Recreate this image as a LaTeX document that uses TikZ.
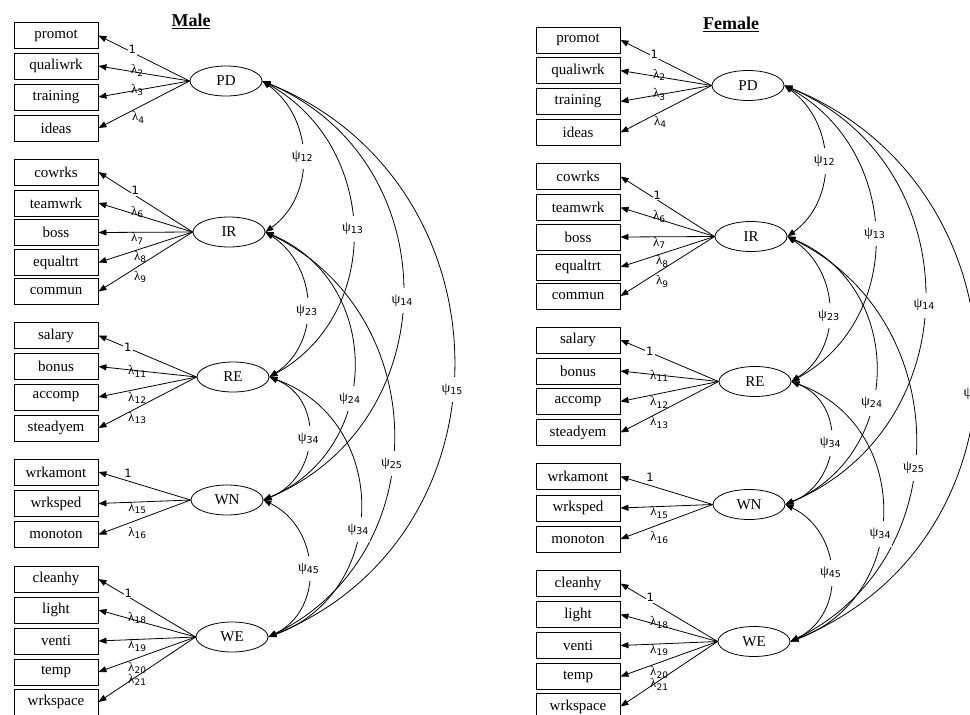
\documentclass[tikz,border=0pt]{standalone}
\usepackage{fontspec}
\setmainfont{Liberation Serif}
\newfontfamily\labsans{DejaVu Sans}
\usetikzlibrary{arrows.meta,shapes.geometric}
\newcommand\lm[1]{λ\raisebox{-2.5pt}{\labsans\fontsize{9}{9}\selectfont #1}}
\newcommand\ps[1]{ψ\raisebox{-2pt}{\labsans\fontsize{9.5}{9.5}\selectfont #1}}
\newcommand\drawpanel{%
\node[lat] (PD) at (226,81) {PD};
\node[lat] (IR) at (229,232) {IR};
\node[lat] (RE) at (233,377) {RE};
\node[lat] (WN) at (227,500) {WN};
\node[lat] (WE) at (232,637) {WE};
\node[obs] (promot) at (56,35.5) {promot};
\node[obs] (qualiwrk) at (56,66) {qualiwrk};
\node[obs] (training) at (56,97) {training};
\node[obs] (ideas) at (56,128) {ideas};
\node[obs] (cowrks) at (56,172) {cowrks};
\node[obs] (teamwrk) at (56,203) {teamwrk};
\node[obs] (boss) at (56,232.5) {boss};
\node[obs] (equaltrt) at (56,262.5) {equaltrt};
\node[obs] (commun) at (56,291.5) {commun};
\node[obs] (salary) at (56,335.5) {salary};
\node[obs] (bonus) at (56,366.5) {bonus};
\node[obs] (accomp) at (56,397) {accomp};
\node[obs] (steadyem) at (56,428) {steadyem};
\node[obs] (wrkamont) at (56,472) {wrkamont};
\node[obs] (wrksped) at (56,503.5) {wrksped};
\node[obs] (monoton) at (56,534.5) {monoton};
\node[obs] (cleanhy) at (56,579) {cleanhy};
\node[obs] (light) at (56,610) {light};
\node[obs] (venti) at (56,641) {venti};
\node[obs] (temp) at (56,672) {temp};
\node[obs] (wrkspace) at (56,702) {wrkspace};
% loadings
\draw[load] (PD.west) -- node[one,pos=.63,yshift=3pt]{1} (promot.east);
\draw[load] (PD.west) -- node[lam,pos=.576,yshift=2pt]{\lm{2}} (qualiwrk.east);
\draw[load] (PD.west) -- node[lam,pos=.576]{\lm{3}} (training.east);
\draw[load] (PD.west) -- node[lam,pos=.565,yshift=-10pt]{\lm{4}} (ideas.east);
\draw[load] (IR.west) -- node[one,pos=.61,yshift=5pt]{1} (cowrks.east);
\draw[load] (IR.west) -- node[lam,pos=.59,yshift=3pt]{\lm{6}} (teamwrk.east);
\draw[load] (IR.west) -- node[lam,pos=.59,yshift=-6pt]{\lm{7}} (boss.east);
\draw[load] (IR.west) -- node[lam,pos=.558,yshift=-8pt]{\lm{8}} (equaltrt.east);
\draw[load] (IR.west) -- node[lam,pos=.558,yshift=-12pt]{\lm{9}} (commun.east);
\draw[load] (RE.west) -- node[one,pos=.70,yshift=1pt]{1} (salary.east);
\draw[load] (RE.west) -- node[lam,pos=.606,yshift=-1pt]{\lm{11}} (bonus.east);
\draw[load] (RE.west) -- node[lam,pos=.606,yshift=-9pt]{\lm{12}} (accomp.east);
\draw[load] (RE.west) -- node[lam,pos=.606,yshift=-10pt]{\lm{13}} (steadyem.east);
\draw[load] (WN.west) -- node[one,pos=.68,yshift=8pt]{1} (wrkamont.east);
\draw[load] (WN.west) -- node[lam,pos=.58,yshift=-6pt]{\lm{15}} (wrksped.east);
\draw[load] (WN.west) -- node[lam,pos=.58,yshift=-13pt]{\lm{16}} (monoton.east);
\draw[load] (WE.west) -- node[one,pos=.694,yshift=3.5pt]{1} (cleanhy.east);
\draw[load] (WE.west) -- node[lam,pos=.602,yshift=3pt]{\lm{18}} (light.east);
\draw[load] (WE.west) -- node[lam,pos=.602,yshift=-6pt]{\lm{19}} (venti.east);
\draw[load] (WE.west) -- node[lam,pos=.602,yshift=-10pt]{\lm{20}} (temp.east);
\draw[load] (WE.west) -- node[lam,pos=.602,yshift=-4pt]{\lm{21}} (wrkspace.east);
% covariances
\draw[cov] (PD.east) to[out=-36,in=36,looseness=1.07] node[psi]{\ps{12}} (IR.east);
\draw[cov] (PD.east) to[out=-29,in=29,looseness=1.14] node[psi]{\ps{13}} (RE.east);
\draw[cov] (PD.east) to[out=-23,in=23,looseness=1.23] node[psi,pos=.52]{\ps{14}} (WN.east);
\draw[cov] (PD.east) to[out=-22,in=22,looseness=1.24] node[psi,pos=.545]{\ps{15}} (WE.east);
\draw[cov] (IR.east) to[out=-33,in=33,looseness=1.10] node[psi,pos=.54]{\ps{23}} (RE.east);
\draw[cov] (IR.east) to[out=-23,in=23,looseness=1.23] node[psi,pos=.6]{\ps{24}} (WN.east);
\draw[cov] (IR.east) to[out=-26,in=26,looseness=1.18] node[psi,pos=.56]{\ps{25}} (WE.east);
\draw[cov] (RE.east) to[out=-22,in=22,looseness=1.25] node[psi]{\ps{34}} (WN.east);
\draw[cov] (RE.east) to[out=-20,in=20,looseness=1.27] node[psi,pos=.57]{\ps{34}} (WE.east);
\draw[cov] (WN.east) to[out=-26,in=26,looseness=1.18] node[psi]{\ps{45}} (WE.east);
}
\begin{document}
\begin{tikzpicture}[x=1pt,y=-1pt,
  obs/.style={draw, line width=0.9pt, minimum width=84pt, minimum height=26pt, inner sep=0pt, font=\fontsize{15}{15}\selectfont},
  lat/.style={draw, ellipse, line width=0.8pt, minimum width=72pt, minimum height=30pt, inner sep=0pt, font=\fontsize{15}{15}\selectfont},
  load/.style={line width=0.8pt, -{Triangle[length=8pt,width=6pt]}},
  cov/.style={line width=0.8pt, {Triangle[length=8pt,width=6pt]}-{Triangle[length=8pt,width=6pt]}},
  one/.style={fill=white, inner sep=1pt, font=\labsans\fontsize{11.5}{11.5}\selectfont},
  lam/.style={inner sep=0pt, font=\fontsize{13}{13}\selectfont},
  psi/.style={fill=white, inner xsep=1pt, inner ysep=7pt, font=\fontsize{14}{14}\selectfont},
  title/.style={font=\bfseries\fontsize{18}{18}\selectfont}
]
\fill[white] (0,0) rectangle (970,715);
\useasboundingbox (0,0) rectangle (970,715);
\clip (0,0) rectangle (970,715);
\node[title] (tm) at (191,21) {\underline{Male}};
\node[title] (tf) at (731,24) {\underline{Female}};
\begin{scope}[name prefix=m-]
\drawpanel
\end{scope}
\begin{scope}[shift={(522,4.5)}, name prefix=f-]
\drawpanel
\end{scope}
\end{tikzpicture}
\end{document}
